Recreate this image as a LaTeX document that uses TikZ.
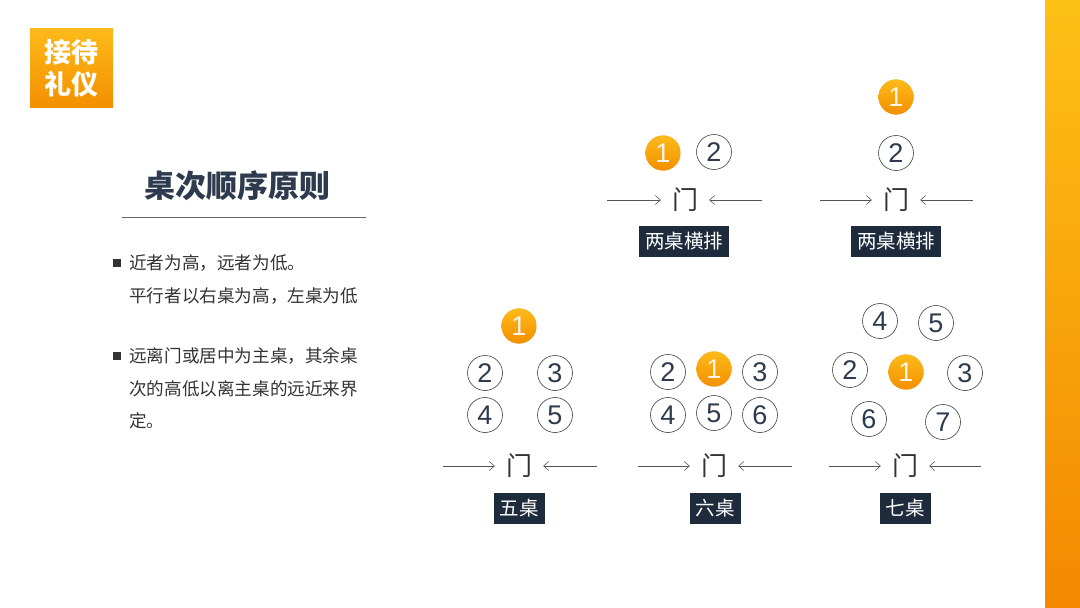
\documentclass[tikz,border=0pt]{standalone}
\usepackage{fontspec}
\newfontfamily\cjk{Noto Sans CJK SC}
\newfontfamily\numf{Liberation Sans}
\usetikzlibrary{arrows.meta}
\definecolor{navy}{HTML}{1E2B3C}
\definecolor{titlec}{HTML}{2E3B4E}
\definecolor{txt}{HTML}{333333}
\definecolor{oraTop}{HTML}{FDBA1A}
\definecolor{oraBot}{HTML}{F39000}
\definecolor{arrowc}{HTML}{555555}
\tikzset{
  seat/.style={circle,draw=black!75,line width=0.6pt,minimum size=35pt,inner sep=0pt,
    font=\numf\fontsize{27}{27}\selectfont,text=titlec},
  mainseat/.style={circle,minimum size=35pt,inner sep=0pt,fill=oraBot,
    path picture={\shade[top color=oraTop,bottom color=oraBot]
      (path picture bounding box.north west) rectangle (path picture bounding box.south east);},
    font=\numf\fontsize{27}{27}\selectfont,text=white!92!orange},
  door/.style={font=\cjk\fontsize{26}{26}\selectfont,text=txt,inner xsep=11pt,inner ysep=2pt},
  tag/.style={fill=navy,text=white,font=\cjk\fontsize{19.5}{19.5}\selectfont,inner xsep=6pt,
    minimum height=31pt},
  entry/.style={draw=arrowc,line width=0.6pt,-{Straight Barb[length=5pt,width=9pt,line width=0.6pt]}},
  bullettext/.style={font=\cjk\fontsize{17.6}{17.6}\selectfont,text=txt,anchor=west,inner sep=0pt},
}
\begin{document}
\begin{tikzpicture}[x=1pt,y=-1pt]
\useasboundingbox (0,0) rectangle (1080,608);
\fill[white] (0,0) rectangle (1080,608);
% right bar
\shade[top color=oraTop!90!yellow,bottom color=oraBot!95!red] (1045,0) rectangle (1080,608);
% logo
\shade[top color=oraTop,bottom color=oraBot] (30,28) rectangle (113,107);
\node[font=\cjk\bfseries\fontsize{27}{27}\selectfont,text=white] (logo1) at (71.5,52) {接待};
\node[font=\cjk\bfseries\fontsize{27}{27}\selectfont,text=white] (logo2) at (71.5,84) {礼仪};
% title
\node[font=\cjk\bfseries\fontsize{31}{31}\selectfont,text=titlec] (title) at (237,186) {桌次顺序原则};
\draw[black!60,line width=0.7pt] (122,217) -- (366,217);
% bullets
\fill[txt] (113,259) rectangle (121,267);
\node[bullettext] (b1) at (129,263) {近者为高，远者为低。};
\node[bullettext] (b1b) at (129,296) {平行者以右桌为高，左桌为低};
\fill[txt] (113,352) rectangle (121,360);
\node[bullettext] (b2) at (129,356) {远离门或居中为主桌，其余桌};
\node[bullettext] (b2b) at (129,389) {次的高低以离主桌的远近来界};
\node[bullettext] (b2c) at (129,421) {定。};

% group A: two tables side by side
\node[mainseat] (a1) at (663,153) {1};
\node[seat] (a2) at (714,152) {2};
\node[door] (ad) at (685,200) {门};
\coordinate (al) at (607,200);
\coordinate (ar) at (762,200);
\draw[entry] (al) -- (ad.west);
\draw[entry] (ar) -- (ad.east);
\node[tag] (at) at (684,241) {两桌横排};

% group B
\node[mainseat] (b1s) at (896,97) {1};
\node[seat] (b2s) at (896,153) {2};
\node[door] (bd) at (896,200) {门};
\coordinate (bl) at (820,200);
\coordinate (br) at (973,200);
\draw[entry] (bl) -- (bd.west);
\draw[entry] (br) -- (bd.east);
\node[tag] (bt) at (896,241) {两桌横排};

% group C: five
\node[mainseat] (c1) at (519,326) {1};
\node[seat] (c2) at (485,373) {2};
\node[seat] (c3) at (555,373) {3};
\node[seat] (c4) at (485,415) {4};
\node[seat] (c5) at (555,415) {5};
\node[door] (cd) at (519,466) {门};
\coordinate (cl) at (443,466);
\coordinate (cr) at (597,466);
\draw[entry] (cl) -- (cd.west);
\draw[entry] (cr) -- (cd.east);
\node[tag] (ct) at (519,508) {五桌};

% group D: six
\node[seat] (d2) at (668,372) {2};
\node[mainseat] (d1) at (714,369) {1};
\node[seat] (d3) at (760,372) {3};
\node[seat] (d4) at (668,415) {4};
\node[seat] (d5) at (714,413) {5};
\node[seat] (d6) at (760,415) {6};
\node[door] (dd) at (714,466) {门};
\coordinate (dl) at (638,466);
\coordinate (dr) at (792,466);
\draw[entry] (dl) -- (dd.west);
\draw[entry] (dr) -- (dd.east);
\node[tag] (dt) at (715,508) {六桌};

% group E: seven
\node[seat] (e4) at (880,321) {4};
\node[seat] (e5) at (936,323) {5};
\node[seat] (e2) at (850,370) {2};
\node[mainseat] (e1) at (906,372) {1};
\node[seat] (e3) at (965,373) {3};
\node[seat] (e6) at (869,419) {6};
\node[seat] (e7) at (943,422) {7};
\node[door] (ed) at (905,466) {门};
\coordinate (el) at (829,466);
\coordinate (er) at (981,466);
\draw[entry] (el) -- (ed.west);
\draw[entry] (er) -- (ed.east);
\node[tag] (et) at (905,508) {七桌};
\end{tikzpicture}
\end{document}
